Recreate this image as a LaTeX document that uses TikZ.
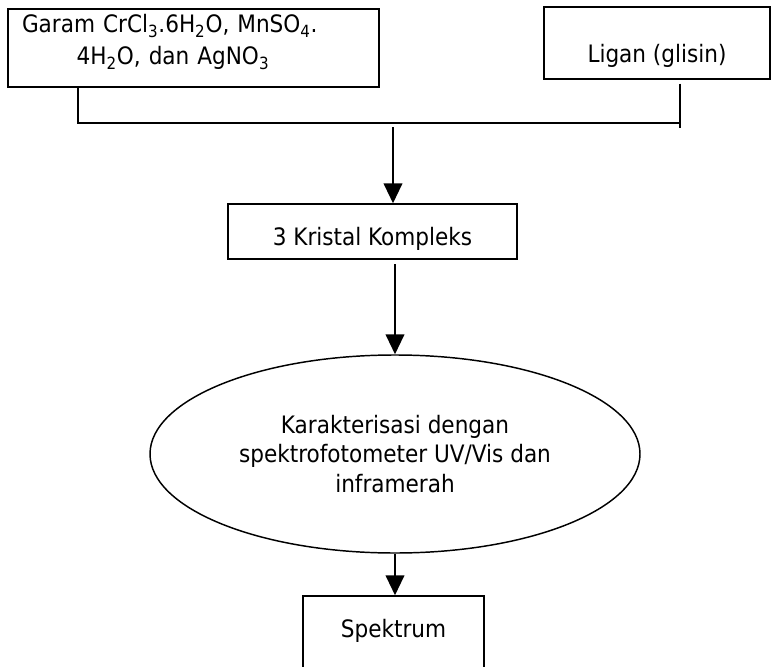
\documentclass[tikz,border=0pt]{standalone}
\usepackage{fontspec}
\setmainfont{DejaVu Sans Condensed}
\usetikzlibrary{arrows.meta,shapes.geometric}

\begin{document}
\begin{tikzpicture}[x=0.75pt,y=-0.75pt,
    box/.style={draw, line width=1.1pt, inner sep=0pt, font=\fontsize{18}{21}\selectfont},
    flow/.style={line width=1.5pt},
    arr/.style={flow, -{Triangle[width=14pt,length=15pt]}}]
    % Frame
    \useasboundingbox (0,0) rectangle (771,667);
    \clip (0,0) rectangle (771,667);

    % Starting materials
    \node[box, align=left, text width=257.25pt, inner xsep=10.5pt, inner ysep=4.5pt,
          text height=13.5pt, text depth=36pt] (garam) at (193.5,48)
        {Garam CrCl\textsubscript{3}.6H\textsubscript{2}O, MnSO\textsubscript{4}.\\[3pt]
         \hspace*{41pt}4H\textsubscript{2}O, dan AgNO\textsubscript{3}};
    \node[box, minimum width=169.5pt, text height=41.5pt, text depth=12.5pt] (ligan) at (657,43) {Ligan (glisin)};

    % Steps
    \node[box, minimum width=216.75pt, text height=30.75pt, text depth=10.5pt] (kristal) at (372.5,231.5) {3 Kristal Kompleks};
    \node[box, ellipse, minimum width=367.5pt, minimum height=148.5pt, align=center,
          font=\fontsize{18}{22}\selectfont] (karakter) at (395,454)
        {Karakterisasi dengan\\spektrofotometer UV/Vis dan\\inframerah};
    \node[box, minimum width=135.75pt, text height=30.75pt, text depth=29.25pt] (spektrum) at (393.5,636) {Spektrum};

    % Joining lines
    \coordinate (kiri) at (78,123);
    \coordinate (kanan) at (680,123);
    \coordinate (gabung) at (393,123);
    \draw[flow] (garam.south -| kiri) -- (kiri) -- (kanan);
    \draw[flow, shorten <=3pt] (ligan.south -| kanan) -- (kanan) -- ++(0,5);

    % Arrows
    \draw[arr, shorten <=3pt] (gabung) -- (gabung |- kristal.north);
    \draw[arr, shorten <=3.5pt] (kristal.south -| karakter.north) -- (karakter.north);
    \draw[arr] (karakter.south) -- (spektrum.north -| karakter.south);
\end{tikzpicture}
\end{document}
